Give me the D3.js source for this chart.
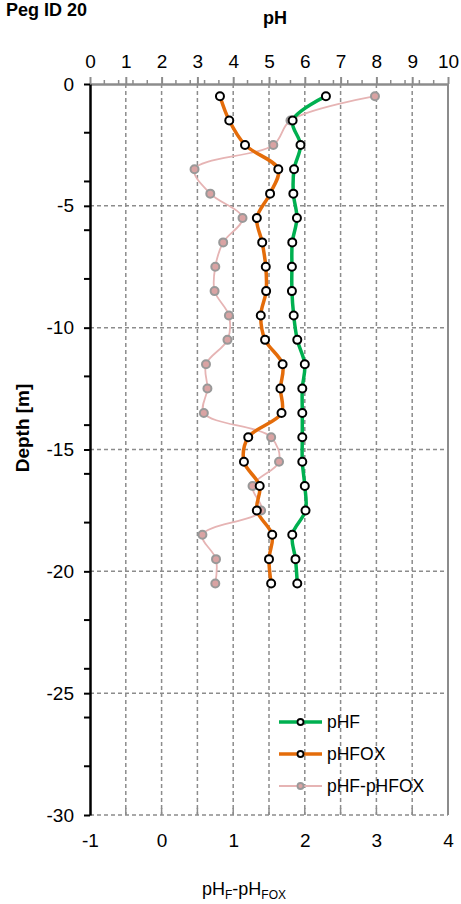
<!DOCTYPE html>
<html>
<head>
<meta charset="utf-8">
<script src="https://cdn.jsdelivr.net/npm/d3@7"></script>
<style>
  body { margin: 0; background: #fff; }
  svg { display: block; font-family: Arial, "Liberation Sans", sans-serif; }
</style>
</head>
<body>
<div id="chart"></div>
<script>
// Data
const depths = [-0.5, -1.5, -2.5, -3.5, -4.5, -5.5, -6.5, -7.5, -8.5, -9.5, -10.5,
  -11.5, -12.5, -13.5, -14.5, -15.5, -16.5, -17.5, -18.5, -19.5, -20.5];
const pHF = [6.59, 5.66, 5.88, 5.70, 5.68, 5.78, 5.65, 5.64, 5.64, 5.69, 5.79,
  6.00, 5.93, 5.93, 5.93, 5.93, 6.00, 6.02, 5.65, 5.74, 5.79];
const pHFOX = [3.63, 3.89, 4.33, 5.26, 5.03, 4.66, 4.81, 4.91, 4.92, 4.77, 4.89,
  5.38, 5.32, 5.35, 4.42, 4.30, 4.74, 4.66, 5.09, 5.00, 5.06];
const pHDiff = [2.98, 1.80, 1.56, 0.46, 0.68, 1.13, 0.86, 0.75, 0.74, 0.94, 0.92,
  0.62, 0.64, 0.59, 1.53, 1.64, 1.27, 1.39, 0.57, 0.76, 0.75];
const phTicks = d3.range(0, 11, 1);
const depthTicks = [0, -5, -10, -15, -20, -25, -30];
const diffTicks = [-1, 0, 1, 2, 3, 4];

// Formatters (plain hyphen for negatives, as in the original)
const plainFormat = (d) => String(d);

// Dimensions
const dimensions = { width: 461, height: 904, left: 90, right: 448, top: 84, bottom: 815 };

const svg = d3.select("#chart")
  .append("svg")
  .attr("width", dimensions.width)
  .attr("height", dimensions.height);

// Scales
const xScale = d3.scaleLinear().domain([0, 10]).range([dimensions.left, dimensions.right]);
const x2Scale = d3.scaleLinear().domain([-1, 4]).range([dimensions.left, dimensions.right]);
const yScale = d3.scaleLinear().domain([0, -30]).range([dimensions.top, dimensions.bottom]);

const gridColor = "#8c8c8c";

// Gridlines
svg.append("g")
  .selectAll("line")
  .data(d3.range(1, 10))
  .join("line")
  .attr("x1", (d) => xScale(d))
  .attr("x2", (d) => xScale(d))
  .attr("y1", dimensions.top)
  .attr("y2", dimensions.bottom)
  .attr("stroke", gridColor)
  .attr("stroke-width", 1.5)
  .attr("stroke-dasharray", "4,3");

svg.append("g")
  .selectAll("line")
  .data([-5, -10, -15, -20, -25, -30])
  .join("line")
  .attr("x1", dimensions.left)
  .attr("x2", dimensions.right)
  .attr("y1", (d) => yScale(d))
  .attr("y2", (d) => yScale(d))
  .attr("stroke", gridColor)
  .attr("stroke-width", 1.5)
  .attr("stroke-dasharray", "4,3");

// Right border
svg.append("line")
  .attr("x1", dimensions.right).attr("x2", dimensions.right)
  .attr("y1", dimensions.top).attr("y2", dimensions.bottom)
  .attr("stroke", gridColor).attr("stroke-width", 2);

// Top axis (pH)
const topAxis = svg.append("g")
  .attr("transform", `translate(0, ${dimensions.top})`)
  .call(d3.axisTop(xScale).tickValues(phTicks).tickFormat(plainFormat)
    .tickSize(6).tickPadding(10).tickSizeOuter(0));
topAxis.select(".domain").attr("stroke", gridColor).attr("stroke-width", 2.5);
topAxis.selectAll(".tick line").attr("stroke", gridColor).attr("stroke-width", 2).attr("y2", -7);
topAxis.selectAll(".tick text").attr("font-size", 19).attr("fill", "#000");

svg.append("g")
  .selectAll("line")
  .data(d3.range(0.4, 10, 0.4).filter((d) => Math.abs(d - Math.round(d)) > 0.01))
  .join("line")
  .attr("x1", (d) => xScale(d))
  .attr("x2", (d) => xScale(d))
  .attr("y1", dimensions.top)
  .attr("y2", dimensions.top - 4)
  .attr("stroke", gridColor)
  .attr("stroke-width", 1.5);

// Bottom axis (pHF - pHFOX), ticks inside
const bottomAxis = svg.append("g")
  .attr("transform", `translate(0, ${dimensions.bottom})`)
  .call(d3.axisBottom(x2Scale).tickValues(diffTicks).tickFormat(plainFormat)
    .tickSize(0).tickPadding(19).tickSizeOuter(0));
bottomAxis.select(".domain").remove();
bottomAxis.selectAll(".tick text").attr("font-size", 19).attr("fill", "#000");

svg.append("g")
  .selectAll("line")
  .data(d3.range(-0.5, 4, 0.5))
  .join("line")
  .attr("x1", (d) => x2Scale(d))
  .attr("x2", (d) => x2Scale(d))
  .attr("y1", dimensions.bottom)
  .attr("y2", dimensions.bottom - 7)
  .attr("stroke", gridColor)
  .attr("stroke-width", 1.5);

// Left axis (depth)
const leftAxis = svg.append("g")
  .attr("transform", `translate(${dimensions.left}, 0)`)
  .call(d3.axisLeft(yScale).tickValues(depthTicks).tickFormat(plainFormat)
    .tickSize(6).tickPadding(10).tickSizeOuter(0));
leftAxis.select(".domain").attr("stroke", "#000").attr("stroke-width", 2.5);
leftAxis.selectAll(".tick line").attr("stroke", "#000").attr("stroke-width", 2);
leftAxis.selectAll(".tick text").attr("font-size", 19).attr("fill", "#000");

svg.append("g")
  .selectAll("line")
  .data(d3.range(-2, -30, -2).filter((d) => d % 5 !== 0))
  .join("line")
  .attr("x1", dimensions.left - 6)
  .attr("x2", dimensions.left)
  .attr("y1", (d) => yScale(d))
  .attr("y2", (d) => yScale(d))
  .attr("stroke", "#000")
  .attr("stroke-width", 2);

// Series
const series = [
  { name: "pHF", values: pHF, x: xScale, color: "#00b050", width: 3.5, fill: "#fff", mstroke: "#000", r: 4 },
  { name: "pHFOX", values: pHFOX, x: xScale, color: "#e46c0a", width: 3.5, fill: "#fff", mstroke: "#000", r: 4 },
  { name: "pHF-pHFOX", values: pHDiff, x: x2Scale, color: "#e6b4b4", width: 1.8, fill: "#d9a3a3", mstroke: "#999", r: 4 },
];

series.slice().reverse().forEach((s) => {
  const pts = s.values.map((v, i) => [s.x(v), yScale(depths[i])]);
  svg.append("path")
    .attr("d", d3.line().curve(d3.curveCatmullRom.alpha(0.5))(pts))
    .attr("fill", "none")
    .attr("stroke", s.color)
    .attr("stroke-width", s.width);
});

series.slice().reverse().forEach((s) => {
  svg.append("g")
    .selectAll("circle")
    .data(s.values)
    .join("circle")
    .attr("cx", (d) => s.x(d))
    .attr("cy", (d, i) => yScale(depths[i]))
    .attr("r", s.r)
    .attr("fill", s.fill)
    .attr("stroke", s.mstroke)
    .attr("stroke-width", 2);
});

// Legend
const legend = svg.append("g");
series.forEach((s, i) => {
  const ly = 722 + i * 32;
  legend.append("line")
    .attr("x1", 279).attr("x2", 322)
    .attr("y1", ly).attr("y2", ly)
    .attr("stroke", s.color).attr("stroke-width", s.width);
  legend.append("circle")
    .attr("cx", 300.5).attr("cy", ly).attr("r", 3)
    .attr("fill", s.fill).attr("stroke", s.mstroke).attr("stroke-width", 1.8);
  legend.append("text")
    .attr("x", 327).attr("y", ly + 6)
    .attr("font-size", 17.5)
    .text(s.name);
});

// Titles
svg.append("text")
  .attr("x", 6).attr("y", 16)
  .attr("font-size", 18).attr("font-weight", "bold")
  .text("Peg ID 20");

svg.append("text")
  .attr("x", 275).attr("y", 24)
  .attr("text-anchor", "middle")
  .attr("font-size", 18).attr("font-weight", "bold")
  .text("pH");

svg.append("text")
  .attr("transform", "translate(29, 428) rotate(-90)")
  .attr("text-anchor", "middle")
  .attr("font-size", 19).attr("font-weight", "bold")
  .text("Depth [m]");

const xTitle = svg.append("text")
  .attr("x", 244).attr("y", 895)
  .attr("text-anchor", "middle")
  .attr("font-size", 18);
xTitle.append("tspan").text("pH");
xTitle.append("tspan").attr("font-size", 12).attr("dy", 4).text("F");
xTitle.append("tspan").attr("dy", -4).text("-pH");
xTitle.append("tspan").attr("font-size", 12).attr("dy", 4).text("FOX");
</script>
</body>
</html>
